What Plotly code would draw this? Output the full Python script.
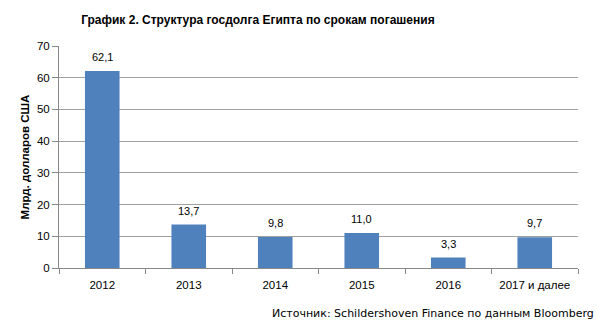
import plotly.graph_objects as go

categories = ["2012", "2013", "2014", "2015", "2016", "2017 и далее"]
values = [62.1, 13.7, 9.8, 11.0, 3.3, 9.7]
y_ticks = [0, 10, 20, 30, 40, 50, 60, 70]

labels = [f"{v:.1f}".replace(".", ",") for v in values]

fig = go.Figure()
fig.add_trace(go.Bar(
    x=categories, y=values,
    marker=dict(color="#4F81BD", line=dict(width=0)),
))

# category axis: annotation x given as category index
for i, (v, t) in enumerate(zip(values, labels)):
    fig.add_annotation(x=i, y=v, text=t, showarrow=False, yanchor="bottom",
                       yshift=6, font=dict(size=11, family="Liberation Sans", color="#000000"))

fig.update_layout(
    width=597, height=323,
    margin=dict(l=59, r=19, t=46, b=55),
    paper_bgcolor="white", plot_bgcolor="white",
    font=dict(family="Liberation Sans", size=11, color="#000000"),
    bargap=0.6,
    showlegend=False,
    title=dict(text="<b>График 2. Структура госдолга Египта по срокам погашения</b>",
               x=0.432, xanchor="center", y=0.938, yanchor="middle",
               font=dict(size=12, family="Liberation Sans")),
    xaxis=dict(
        type="category", categoryorder="array", categoryarray=categories,
        showline=True, linecolor="#888888", linewidth=1,
        ticks="outside", tickson="boundaries", ticklen=5, tickcolor="#888888",
        showgrid=False, tickfont=dict(size=11.5), ticklabelstandoff=6,
    ),
    yaxis=dict(
        range=[0, 70], tickvals=y_ticks,
        showline=True, linecolor="#888888", linewidth=1,
        ticks="outside", ticklen=6, tickcolor="#888888",
        showgrid=True, gridcolor="#A0A0A0", gridwidth=1,
        zeroline=False, tickfont=dict(size=11.5),
        title=dict(text="<b>Млрд. долларов США</b>", font=dict(size=11.5), standoff=4),
    ),
)

fig.add_annotation(
    text="Источник: Schildershoven Finance по данным Bloomberg",
    xref="paper", yref="paper", x=1.034, y=-0.203, xanchor="right", yanchor="middle",
    showarrow=False, font=dict(size=11, family="DejaVu Sans"),
)

fig.write_html("out.html")
